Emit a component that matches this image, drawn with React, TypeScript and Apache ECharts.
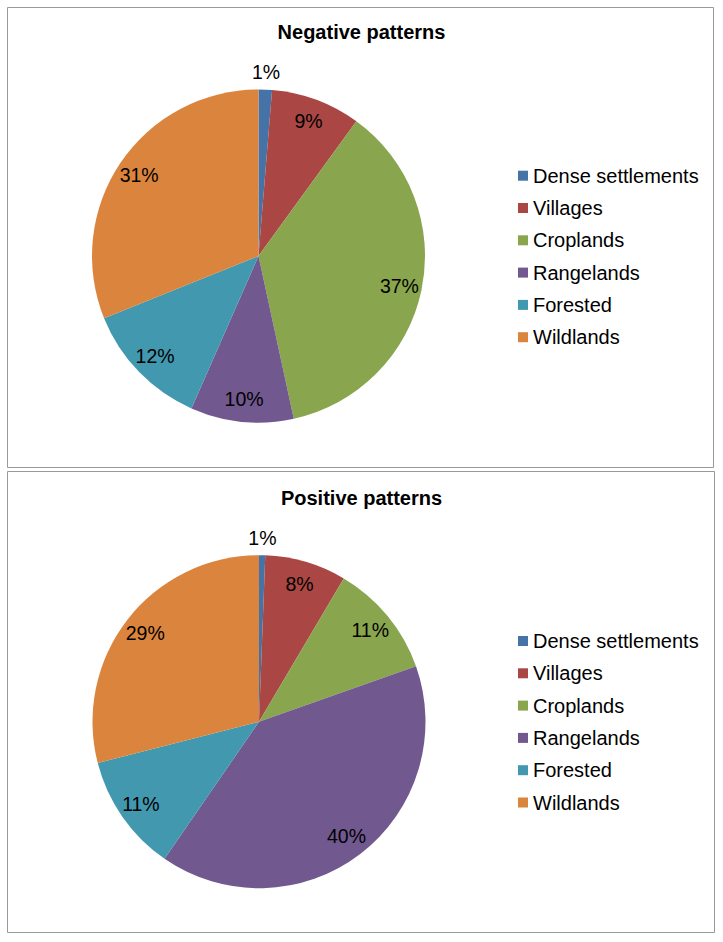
import React, { useEffect, useRef } from 'react';
import * as echarts from 'echarts';

const categories = ['Dense settlements', 'Villages', 'Croplands', 'Rangelands', 'Forested', 'Wildlands'];
const negativeValues = [1.3, 8.7, 36.6, 10.0, 12.3, 31.1];
const positiveValues = [0.6, 7.9, 11.1, 40.0, 11.4, 29.0];
const chartTitles = ['Negative patterns', 'Positive patterns'];
const colors = ['#4572A7', '#AA4643', '#89A54E', '#71588F', '#4198AF', '#DB843D'];

export default function App() {
  const ref = useRef<HTMLDivElement>(null);
  useEffect(() => {
    const chart = echarts.init(ref.current!, null, { renderer: 'svg' });
    const font = '"Liberation Sans", Arial, Helvetica, sans-serif';
    const centers = [[258.5, 256], [259, 721.7]];
    const R = 166.5;
    const titleTops = [21.7, 487.5];
    const legendTops = [165.7, 631];
    const datasets = [negativeValues, positiveValues];
    const series: any[] = [];
    datasets.forEach((vals, k) => {
      series.push({
        type: 'pie',
        center: centers[k],
        radius: [0, R],
        startAngle: 90,
        clockwise: true,
        silent: true,
        emphasis: { disabled: true },
        label: { show: false },
        labelLine: { show: false },
        itemStyle: { borderWidth: 0 },
        data: categories.map((c, i) => ({ name: c, value: vals[i], itemStyle: { color: colors[i] } })),
      });
      const labelStyle = {
        position: 'inside',
        formatter: (p: any) => Math.round(p.percent) + '%',
        fontSize: 19.5,
        fontFamily: font,
        color: '#000',
      };
      series.push({
        type: 'pie',
        center: centers[k],
        radius: [0, 282],
        startAngle: 90,
        clockwise: true,
        silent: true,
        emphasis: { disabled: true },
        labelLine: { show: false },
        itemStyle: { color: 'transparent', borderWidth: 0 },
        label: { show: true, ...labelStyle },
        data: categories.map((c, i) => ({ name: c + ' #lbl', value: vals[i], label: { show: i > 0 } })),
      });
      series.push({
        type: 'pie',
        center: centers[k],
        radius: [0, 362],
        startAngle: 90,
        clockwise: true,
        silent: true,
        emphasis: { disabled: true },
        labelLine: { show: false },
        itemStyle: { color: 'transparent', borderWidth: 0 },
        label: { show: true, ...labelStyle },
        data: categories.map((c, i) => ({ name: c + ' #out', value: vals[i], label: { show: i === 0 } })),
      });
    });
    chart.setOption({
      animation: false,
      backgroundColor: '#fff',
      title: chartTitles.map((t, k) => ({
        text: t,
        left: 'center',
        top: titleTops[k],
        padding: 0,
        textStyle: { fontSize: 20, fontWeight: 'bold', fontFamily: font, color: '#000', lineHeight: 20 },
      })),
      legend: [0, 1].map((k) => ({
        orient: 'vertical',
        left: 518,
        top: legendTops[k],
        padding: 0,
        itemWidth: 10,
        itemHeight: 10,
        itemGap: 12.3,
        icon: 'rect',
        selectedMode: false,
        data: categories,
        textStyle: { fontSize: 20, fontFamily: font, color: '#000', lineHeight: 20 },
      })),
      graphic: [
        { type: 'rect', shape: { x: 7.5, y: 7.5, width: 706, height: 460 }, style: { fill: 'none', stroke: '#999', lineWidth: 1 }, silent: true },
        { type: 'rect', shape: { x: 7.5, y: 471.5, width: 707, height: 461 }, style: { fill: 'none', stroke: '#999', lineWidth: 1 }, silent: true },
      ],
      series,
    });
    return () => chart.dispose();
  }, []);
  return <div ref={ref} style={{ position: 'fixed', left: 0, top: 0, width: 723, height: 942 }} />;
}
